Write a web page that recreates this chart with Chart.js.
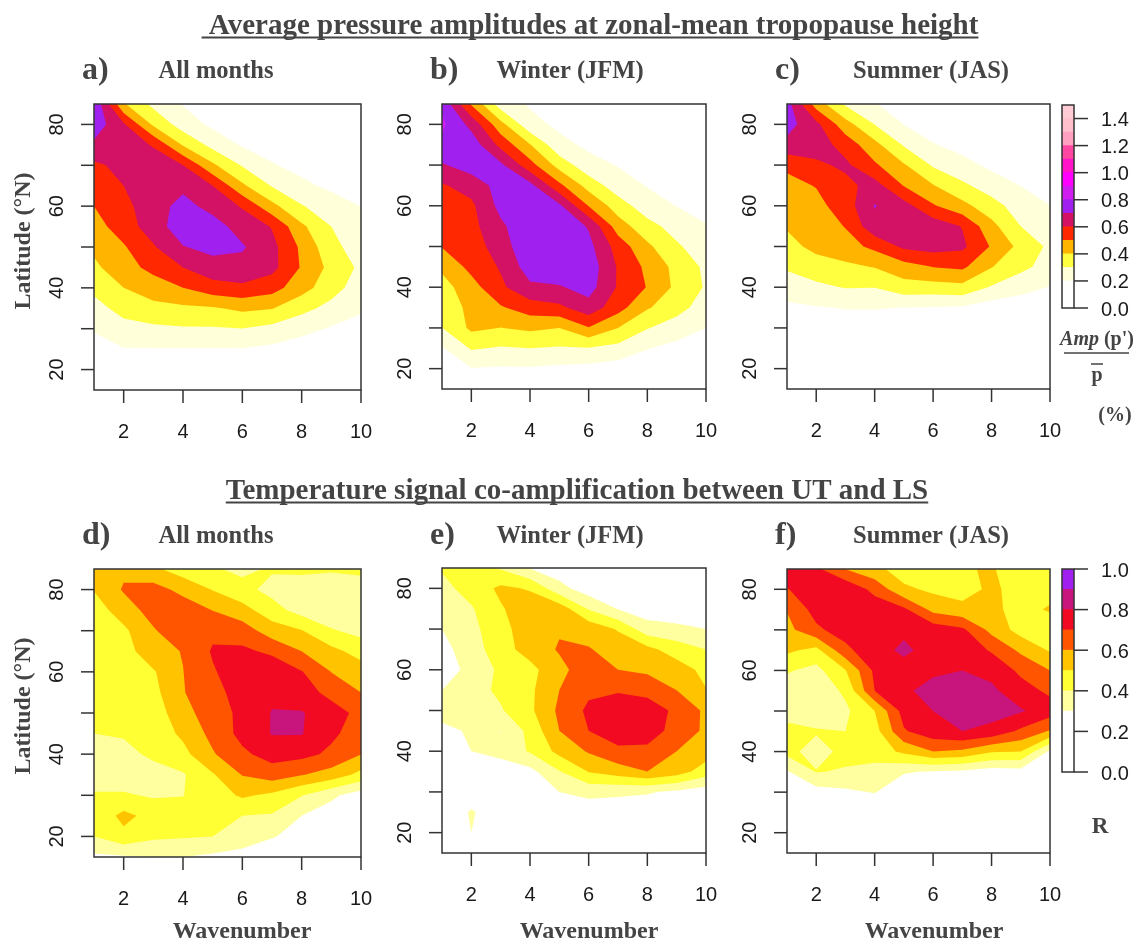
<!DOCTYPE html>
<html>
<head>
<meta charset="utf-8">
<script src="https://cdn.jsdelivr.net/npm/chart.js@4.4.1/dist/chart.umd.min.js"></script>
<style>
body { margin: 0; background: #fff; }
#fig { position: relative; width: 1136px; height: 942px; background: #fff; }
#fig canvas { position: absolute; left: 0; top: 0; }
</style>
</head>
<body>
<div id="fig">
  <canvas id="pa" width="1136" height="942"></canvas>
  <canvas id="pb" width="1136" height="942"></canvas>
  <canvas id="pc" width="1136" height="942"></canvas>
  <canvas id="pd" width="1136" height="942"></canvas>
  <canvas id="pe" width="1136" height="942"></canvas>
  <canvas id="pf" width="1136" height="942"></canvas>
  <canvas id="barTop" width="1136" height="942"></canvas>
  <canvas id="barBottom" width="1136" height="942"></canvas>
  <canvas id="labels" width="1136" height="942"></canvas>
</div>
<script>
// grid axes
const wavenumbers = [1, 2, 3, 4, 5, 6, 7, 8, 9, 10];
const latitudes = [15, 20, 25, 30, 35, 40, 45, 50, 55, 60, 65, 70, 75, 80, 85];
const xTicks = [2, 4, 6, 8, 10];
const yTicks = [20, 30, 40, 50, 60, 70, 80];
const yTickLabels = [20, 40, 60, 80];

// contour levels + colours
const ampLevels = [0, 0.2, 0.3, 0.4, 0.5, 0.6, 0.7, 0.8, 0.9, 1.0, 1.1, 1.2, 1.3, 1.4, 1.5];
const ampColors = ['#ffffff', '#ffffda', '#ffff40', '#ffb400', '#ff2800', '#d31165', '#a020f0',
                   '#d01ef0', '#ff00ff', '#ff14c8', '#ff46a0', '#ffa0c0', '#ffc0cb', '#ffccd6'];
const ampBarTicks = [0.0, 0.2, 0.4, 0.6, 0.8, 1.0, 1.2, 1.4];
const corrLevels = [0, 0.3, 0.4, 0.5, 0.6, 0.7, 0.8, 0.9, 1.0];
const corrColors = ['#ffffff', '#ffffa0', '#ffff33', '#ffc300', '#ff5500', '#f20a22', '#c8157e', '#a020f0'];
const corrBarTicks = [0.0, 0.2, 0.4, 0.6, 0.8, 1.0];

// rows = latitudes (15 -> 85), columns = wavenumbers (1 -> 10)
const ampAllMonths = [
  [0.10, 0.11, 0.11, 0.11, 0.11, 0.11, 0.10, 0.09, 0.08, 0.07],
  [0.14, 0.15, 0.15, 0.15, 0.15, 0.15, 0.14, 0.12, 0.10, 0.08],
  [0.16, 0.195, 0.195, 0.195, 0.195, 0.195, 0.18, 0.15, 0.12, 0.10],
  [0.21, 0.27, 0.28, 0.29, 0.29, 0.298, 0.27, 0.23, 0.19, 0.15],
  [0.27, 0.33, 0.37, 0.38, 0.39, 0.42, 0.405, 0.33, 0.27, 0.22],
  [0.32, 0.40, 0.45, 0.50, 0.56, 0.58, 0.54, 0.44, 0.34, 0.25],
  [0.38, 0.46, 0.53, 0.60, 0.66, 0.67, 0.63, 0.49, 0.37, 0.28],
  [0.42, 0.49, 0.59, 0.695, 0.73, 0.71, 0.63, 0.48, 0.33, 0.25],
  [0.46, 0.55, 0.65, 0.76, 0.74, 0.66, 0.594, 0.42, 0.30, 0.24],
  [0.50, 0.57, 0.66, 0.73, 0.67, 0.59, 0.43, 0.307, 0.247, 0.199],
  [0.54, 0.60, 0.67, 0.68, 0.60, 0.418, 0.293, 0.221, 0.18, 0.16],
  [0.58, 0.63, 0.66, 0.60, 0.418, 0.292, 0.208, 0.17, 0.14, 0.12],
  [0.68, 0.66, 0.59, 0.39, 0.267, 0.19, 0.16, 0.13, 0.11, 0.09],
  [0.76, 0.614, 0.383, 0.253, 0.18, 0.15, 0.12, 0.10, 0.08, 0.07],
  [0.79, 0.41, 0.274, 0.195, 0.15, 0.12, 0.10, 0.08, 0.07, 0.06]
];
const ampWinter = [
  [0.08, 0.10, 0.10, 0.10, 0.10, 0.10, 0.09, 0.08, 0.07, 0.06],
  [0.12, 0.195, 0.19, 0.19, 0.18, 0.17, 0.15, 0.13, 0.11, 0.10],
  [0.19, 0.31, 0.29, 0.30, 0.29, 0.295, 0.27, 0.205, 0.17, 0.15],
  [0.298, 0.42, 0.398, 0.42, 0.40, 0.495, 0.40, 0.305, 0.25, 0.20],
  [0.33, 0.43, 0.49, 0.55, 0.58, 0.66, 0.54, 0.41, 0.34, 0.25],
  [0.36, 0.46, 0.58, 0.68, 0.69, 0.74, 0.59, 0.495, 0.377, 0.29],
  [0.42, 0.53, 0.61, 0.75, 0.78, 0.76, 0.59, 0.477, 0.37, 0.28],
  [0.505, 0.55, 0.65, 0.78, 0.79, 0.73, 0.558, 0.42, 0.315, 0.24],
  [0.53, 0.57, 0.68, 0.78, 0.78, 0.69, 0.45, 0.335, 0.26, 0.205],
  [0.56, 0.58, 0.73, 0.77, 0.72, 0.495, 0.348, 0.245, 0.198, 0.17],
  [0.59, 0.64, 0.74, 0.73, 0.524, 0.36, 0.245, 0.195, 0.16, 0.13],
  [0.69, 0.75, 0.72, 0.537, 0.36, 0.235, 0.195, 0.16, 0.13, 0.11],
  [0.78, 0.76, 0.57, 0.405, 0.23, 0.18, 0.15, 0.12, 0.10, 0.09],
  [0.82, 0.668, 0.433, 0.23, 0.18, 0.15, 0.12, 0.10, 0.09, 0.08],
  [0.78, 0.49, 0.25, 0.19, 0.15, 0.12, 0.10, 0.09, 0.08, 0.07]
];
const ampSummer = [
  [0.08, 0.08, 0.08, 0.08, 0.08, 0.08, 0.08, 0.07, 0.07, 0.06],
  [0.10, 0.10, 0.10, 0.10, 0.10, 0.10, 0.10, 0.09, 0.08, 0.07],
  [0.12, 0.12, 0.12, 0.12, 0.12, 0.12, 0.12, 0.10, 0.09, 0.08],
  [0.14, 0.15, 0.15, 0.15, 0.15, 0.15, 0.14, 0.12, 0.10, 0.09],
  [0.177, 0.195, 0.205, 0.205, 0.199, 0.195, 0.19, 0.15, 0.12, 0.12],
  [0.26, 0.28, 0.305, 0.302, 0.36, 0.36, 0.37, 0.29, 0.25, 0.195],
  [0.31, 0.35, 0.38, 0.405, 0.46, 0.502, 0.52, 0.405, 0.32, 0.27],
  [0.365, 0.43, 0.46, 0.525, 0.62, 0.64, 0.62, 0.49, 0.37, 0.28],
  [0.41, 0.44, 0.505, 0.67, 0.67, 0.66, 0.595, 0.43, 0.30, 0.24],
  [0.44, 0.47, 0.55, 0.705, 0.64, 0.51, 0.43, 0.34, 0.25, 0.201],
  [0.47, 0.505, 0.57, 0.64, 0.495, 0.405, 0.32, 0.25, 0.198, 0.17],
  [0.52, 0.58, 0.62, 0.515, 0.41, 0.288, 0.23, 0.18, 0.15, 0.12],
  [0.67, 0.65, 0.56, 0.43, 0.29, 0.205, 0.17, 0.14, 0.11, 0.09],
  [0.74, 0.625, 0.44, 0.298, 0.198, 0.16, 0.13, 0.11, 0.09, 0.08],
  [0.74, 0.456, 0.286, 0.205, 0.16, 0.13, 0.10, 0.09, 0.08, 0.07]
];
const corrAllMonths = [
  [0.28, 0.29, 0.30, 0.30, 0.28, 0.25, 0.20, 0.18, 0.15, 0.13],
  [0.40, 0.47, 0.42, 0.41, 0.40, 0.37, 0.31, 0.25, 0.20, 0.18],
  [0.42, 0.53, 0.46, 0.43, 0.42, 0.40, 0.39, 0.30, 0.25, 0.20],
  [0.41, 0.41, 0.39, 0.398, 0.45, 0.515, 0.48, 0.405, 0.32, 0.25],
  [0.35, 0.35, 0.36, 0.39, 0.49, 0.605, 0.65, 0.605, 0.56, 0.47],
  [0.35, 0.37, 0.42, 0.47, 0.59, 0.68, 0.74, 0.73, 0.68, 0.602],
  [0.40, 0.41, 0.44, 0.52, 0.63, 0.73, 0.805, 0.805, 0.72, 0.65],
  [0.42, 0.45, 0.45, 0.56, 0.66, 0.72, 0.805, 0.805, 0.76, 0.66],
  [0.41, 0.44, 0.47, 0.595, 0.66, 0.75, 0.78, 0.76, 0.66, 0.60],
  [0.42, 0.44, 0.49, 0.598, 0.69, 0.76, 0.77, 0.705, 0.598, 0.55],
  [0.43, 0.46, 0.56, 0.605, 0.71, 0.72, 0.68, 0.60, 0.53, 0.46],
  [0.44, 0.48, 0.59, 0.67, 0.68, 0.65, 0.55, 0.505, 0.41, 0.37],
  [0.45, 0.55, 0.64, 0.66, 0.598, 0.54, 0.44, 0.36, 0.33, 0.33],
  [0.505, 0.61, 0.64, 0.57, 0.495, 0.43, 0.37, 0.35, 0.35, 0.36],
  [0.55, 0.58, 0.52, 0.45, 0.41, 0.38, 0.41, 0.42, 0.41, 0.42]
];
const corrWinter = [
  [0.12, 0.14, 0.13, 0.13, 0.14, 0.15, 0.15, 0.14, 0.13, 0.12],
  [0.14, 0.30, 0.16, 0.17, 0.18, 0.19, 0.19, 0.18, 0.17, 0.16],
  [0.15, 0.32, 0.18, 0.20, 0.22, 0.24, 0.24, 0.23, 0.22, 0.20],
  [0.17, 0.20, 0.22, 0.25, 0.30, 0.33, 0.32, 0.31, 0.28, 0.25],
  [0.20, 0.24, 0.25, 0.27, 0.395, 0.505, 0.55, 0.60, 0.55, 0.45],
  [0.25, 0.30, 0.33, 0.41, 0.53, 0.61, 0.68, 0.68, 0.60, 0.55],
  [0.28, 0.31, 0.299, 0.43, 0.60, 0.70, 0.75, 0.74, 0.67, 0.58],
  [0.33, 0.36, 0.39, 0.48, 0.62, 0.72, 0.76, 0.75, 0.68, 0.58],
  [0.30, 0.36, 0.42, 0.48, 0.60, 0.68, 0.69, 0.67, 0.60, 0.505],
  [0.25, 0.33, 0.42, 0.47, 0.57, 0.66, 0.60, 0.58, 0.55, 0.47],
  [0.27, 0.35, 0.46, 0.54, 0.61, 0.605, 0.57, 0.53, 0.45, 0.40],
  [0.30, 0.37, 0.47, 0.55, 0.59, 0.57, 0.49, 0.34, 0.33, 0.30],
  [0.36, 0.39, 0.49, 0.56, 0.56, 0.39, 0.295, 0.25, 0.22, 0.20],
  [0.37, 0.44, 0.52, 0.49, 0.33, 0.25, 0.22, 0.20, 0.19, 0.18],
  [0.41, 0.43, 0.39, 0.295, 0.25, 0.22, 0.20, 0.18, 0.17, 0.16]
];
const corrSummer = [
  [0.10, 0.10, 0.11, 0.11, 0.10, 0.10, 0.10, 0.09, 0.09, 0.08],
  [0.12, 0.14, 0.15, 0.16, 0.14, 0.13, 0.13, 0.12, 0.12, 0.11],
  [0.15, 0.18, 0.20, 0.22, 0.17, 0.16, 0.15, 0.14, 0.14, 0.13],
  [0.20, 0.26, 0.28, 0.305, 0.22, 0.20, 0.19, 0.18, 0.17, 0.15],
  [0.29, 0.405, 0.39, 0.36, 0.31, 0.29, 0.28, 0.25, 0.26, 0.20],
  [0.43, 0.36, 0.43, 0.45, 0.52, 0.60, 0.58, 0.51, 0.50, 0.28],
  [0.43, 0.41, 0.40, 0.46, 0.69, 0.76, 0.80, 0.77, 0.68, 0.59],
  [0.36, 0.34, 0.38, 0.50, 0.74, 0.80, 0.86, 0.84, 0.81, 0.75],
  [0.35, 0.33, 0.42, 0.70, 0.79, 0.82, 0.85, 0.82, 0.74, 0.68],
  [0.41, 0.37, 0.495, 0.72, 0.78, 0.79, 0.80, 0.77, 0.68, 0.60],
  [0.52, 0.47, 0.67, 0.78, 0.81, 0.78, 0.76, 0.69, 0.58, 0.49],
  [0.57, 0.68, 0.75, 0.79, 0.79, 0.76, 0.72, 0.57, 0.46, 0.44],
  [0.605, 0.74, 0.77, 0.76, 0.72, 0.57, 0.53, 0.52, 0.47, 0.51],
  [0.695, 0.76, 0.78, 0.67, 0.52, 0.48, 0.46, 0.52, 0.46, 0.47],
  [0.76, 0.72, 0.598, 0.53, 0.45, 0.44, 0.49, 0.51, 0.44, 0.44]
];

const W = 1136, H = 942;
const sans = '"Liberation Sans", Arial, sans-serif';
const serif = '"Liberation Serif", "Times New Roman", serif';

// keep the part of a grid cell where value >= lev (edges linear, like filled.contour)
function clipCell(pts, lev) {
  const out = [];
  for (let k = 0; k < pts.length; k++) {
    const a = pts[k], b = pts[(k + 1) % pts.length];
    const ain = a.z >= lev, bin = b.z >= lev;
    if (ain) out.push(a);
    if (ain !== bin) {
      const t = (lev - a.z) / (b.z - a.z);
      out.push({x: a.x + t * (b.x - a.x), y: a.y + t * (b.y - a.y), z: lev});
    }
  }
  return out;
}

function contourPlugin(grid, levels, colors) {
  return {
    id: 'contour',
    beforeDatasetsDraw(chart) {
      const {ctx, chartArea: a, scales: {x, y}} = chart;
      ctx.save();
      ctx.beginPath();
      ctx.rect(a.left, a.top, a.right - a.left, a.bottom - a.top);
      ctx.clip();
      ctx.fillStyle = colors[0];
      ctx.fillRect(a.left, a.top, a.right - a.left, a.bottom - a.top);
      for (let k = 1; k < colors.length; k++) {
        ctx.beginPath();
        for (let j = 0; j < latitudes.length - 1; j++) {
          for (let i = 0; i < wavenumbers.length - 1; i++) {
            const cell = [
              {x: wavenumbers[i], y: latitudes[j], z: grid[j][i]},
              {x: wavenumbers[i + 1], y: latitudes[j], z: grid[j][i + 1]},
              {x: wavenumbers[i + 1], y: latitudes[j + 1], z: grid[j + 1][i + 1]},
              {x: wavenumbers[i], y: latitudes[j + 1], z: grid[j + 1][i]}
            ];
            const poly = clipCell(cell, levels[k]);
            if (poly.length < 3) continue;
            poly.forEach((p, n) => {
              const px = x.getPixelForValue(p.x), py = y.getPixelForValue(p.y);
              if (n === 0) ctx.moveTo(px, py); else ctx.lineTo(px, py);
            });
            ctx.closePath();
          }
        }
        ctx.fillStyle = colors[k];
        ctx.fill();
      }
      ctx.restore();
    },
    afterDraw(chart) {
      const {ctx, chartArea: a, scales: {x, y}} = chart;
      ctx.save();
      ctx.strokeStyle = '#333';
      ctx.lineWidth = 1.5;
      ctx.strokeRect(a.left, a.top, a.right - a.left, a.bottom - a.top);
      ctx.fillStyle = '#1a1a1a';
      ctx.font = '20px ' + sans;
      ctx.textAlign = 'center';
      ctx.textBaseline = 'alphabetic';
      xTicks.forEach(v => {
        const px = x.getPixelForValue(v);
        ctx.beginPath(); ctx.moveTo(px, a.bottom); ctx.lineTo(px, a.bottom + 13); ctx.stroke();
        ctx.fillText(String(v), px, a.bottom + 48);
      });
      yTicks.forEach(v => {
        const py = y.getPixelForValue(v);
        ctx.beginPath(); ctx.moveTo(a.left - 13, py); ctx.lineTo(a.left, py); ctx.stroke();
        if (yTickLabels.includes(v)) {
          ctx.save();
          ctx.translate(a.left - 31.5, py);
          ctx.rotate(-Math.PI / 2);
          ctx.fillText(String(v), 0, 0);
          ctx.restore();
        }
      });
      ctx.restore();
    }
  };
}

function makePanel(id, box, grid, levels, colors) {
  return new Chart(document.getElementById(id), {
    type: 'scatter',
    data: {datasets: [{data: [], pointRadius: 0}]},
    options: {
      responsive: false,
      animation: false,
      events: [],
      layout: {padding: {left: box.l, top: box.t, right: W - box.r, bottom: H - box.b}},
      scales: {
        x: {type: 'linear', min: wavenumbers[0], max: wavenumbers[wavenumbers.length - 1], display: false},
        y: {type: 'linear', min: latitudes[0], max: latitudes[latitudes.length - 1], display: false}
      },
      plugins: {legend: {display: false}, tooltip: {enabled: false}}
    },
    plugins: [contourPlugin(grid, levels, colors)]
  });
}

function barFrame(ticks) {
  return {
    id: 'barFrame',
    afterDraw(chart) {
      const {ctx, chartArea: a, scales: {y}} = chart;
      ctx.save();
      ctx.strokeStyle = '#333';
      ctx.lineWidth = 1.5;
      ctx.strokeRect(a.left, a.top, a.right - a.left, a.bottom - a.top);
      ctx.fillStyle = '#1a1a1a';
      ctx.font = '20px ' + sans;
      ctx.textAlign = 'left';
      ticks.forEach(v => {
        const py = y.getPixelForValue(v);
        ctx.beginPath(); ctx.moveTo(a.right, py); ctx.lineTo(a.right + 14, py); ctx.stroke();
        ctx.fillText(v.toFixed(1), a.right + 27, py + 7.5);
      });
      ctx.restore();
    }
  };
}

function makeColorbar(id, box, levels, colors, ticks) {
  return new Chart(document.getElementById(id), {
    type: 'bar',
    data: {
      labels: [''],
      datasets: colors.map((c, k) => ({
        data: [levels[k + 1] - levels[k]],
        backgroundColor: c,
        borderWidth: 0,
        barPercentage: 1,
        categoryPercentage: 1
      }))
    },
    options: {
      responsive: false,
      animation: false,
      events: [],
      layout: {padding: {left: box.l, top: box.t, right: W - box.r, bottom: H - box.b}},
      scales: {
        x: {display: false, stacked: true},
        y: {display: false, stacked: true, min: levels[0], max: levels[levels.length - 1]}
      },
      plugins: {legend: {display: false}, tooltip: {enabled: false}}
    },
    plugins: [barFrame(ticks)]
  });
}

makePanel('pa', {l: 94, r: 361, t: 104, b: 390}, ampAllMonths, ampLevels, ampColors);
makePanel('pb', {l: 442, r: 706, t: 104, b: 389}, ampWinter, ampLevels, ampColors);
makePanel('pc', {l: 787, r: 1050, t: 104, b: 389}, ampSummer, ampLevels, ampColors);
makePanel('pd', {l: 94, r: 361, t: 569, b: 857}, corrAllMonths, corrLevels, corrColors);
makePanel('pe', {l: 442, r: 706, t: 568, b: 853}, corrWinter, corrLevels, corrColors);
makePanel('pf', {l: 787, r: 1050, t: 569, b: 853}, corrSummer, corrLevels, corrColors);
makeColorbar('barTop', {l: 1062, r: 1074, t: 105, b: 308}, ampLevels, ampColors, ampBarTicks);
makeColorbar('barBottom', {l: 1062, r: 1074, t: 569, b: 772}, corrLevels, corrColors, corrBarTicks);

// figure text
const t = document.getElementById('labels').getContext('2d');
t.fillStyle = '#444';
t.strokeStyle = '#444';

function title(s, cx, base) {
  t.font = 'bold 29px ' + serif;
  t.textAlign = 'center';
  t.fillText(s, cx, base);
  const w = t.measureText(s).width;
  t.lineWidth = 2;
  t.beginPath(); t.moveTo(cx - w / 2, base + 3.5); t.lineTo(cx + w / 2, base + 3.5); t.stroke();
}
title(' Average pressure amplitudes at zonal-mean tropopause height', 590, 34);
title('Temperature signal co-amplification between UT and LS', 577, 499);

const panelLetters = [['a)', 82, 79], ['b)', 430, 79], ['c)', 775, 79], ['d)', 82, 544], ['e)', 430, 544], ['f)', 775, 544]];
t.font = 'bold 32px ' + serif;
t.textAlign = 'left';
panelLetters.forEach(p => t.fillText(p[0], p[1], p[2]));

const subtitles = [['All months', 216, 78], ['Winter (JFM)', 570, 78], ['Summer (JAS)', 931, 78],
                   ['All months', 216, 543], ['Winter (JFM)', 570, 543], ['Summer (JAS)', 931, 543]];
t.font = 'bold 24.5px ' + serif;
t.textAlign = 'center';
subtitles.forEach(p => t.fillText(p[0], p[1], p[2]));

t.font = 'bold 24px ' + serif;
[241, 706].forEach(cy => {
  t.save();
  t.translate(30, cy);
  t.rotate(-Math.PI / 2);
  t.fillText('Latitude (\u00b0N)', 0, 0);
  t.restore();
});
[242, 589, 934].forEach(cx => t.fillText('Wavenumber', cx, 938));

// colorbar captions
t.font = 'bold italic 20px ' + serif;
const wAmp = t.measureText('Amp').width;
t.font = 'bold 20px ' + serif;
const wRest = t.measureText(' (p\')').width;
let sx = 1097 - (wAmp + wRest) / 2;
t.textAlign = 'left';
t.font = 'bold italic 20px ' + serif;
t.fillText('Amp', sx, 345);
t.font = 'bold 20px ' + serif;
t.fillText(' (p\')', sx + wAmp, 345);
t.lineWidth = 1.5;
t.beginPath(); t.moveTo(1064, 353); t.lineTo(1129, 353); t.stroke();
t.textAlign = 'center';
t.fillText('p', 1097, 381);
t.beginPath(); t.moveTo(1091, 364); t.lineTo(1103, 364); t.stroke();
t.fillText('(%)', 1115, 421);
t.font = 'bold 23px ' + serif;
t.fillText('R', 1100, 833);
</script>
</body>
</html>
